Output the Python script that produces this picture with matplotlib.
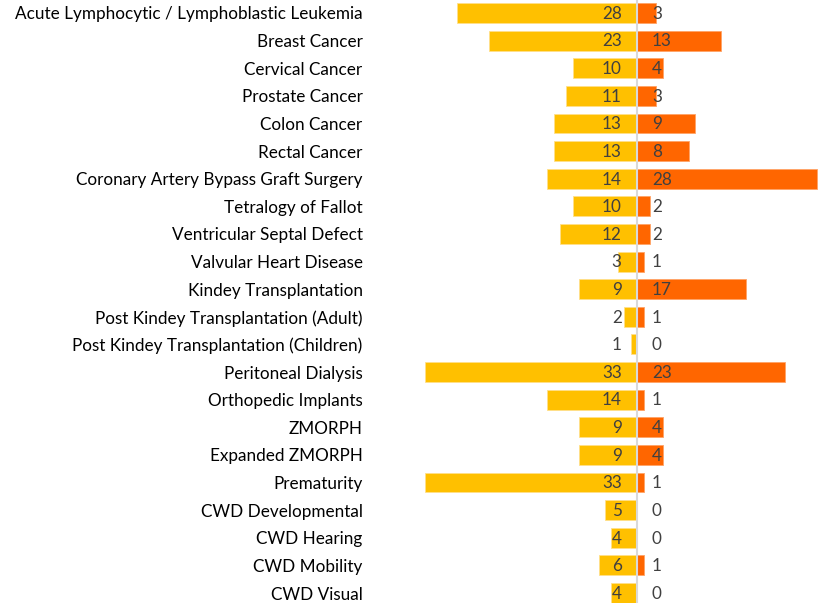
import matplotlib
matplotlib.use("Agg")
import matplotlib.pyplot as plt

plt.rcParams["font.family"] = ["Lato", "DejaVu Sans"]

categories = [
    "Acute Lymphocytic / Lymphoblastic Leukemia",
    "Breast Cancer",
    "Cervical Cancer",
    "Prostate Cancer",
    "Colon Cancer",
    "Rectal Cancer",
    "Coronary Artery Bypass Graft Surgery",
    "Tetralogy of Fallot",
    "Ventricular Septal Defect",
    "Valvular Heart Disease",
    "Kindey Transplantation",
    "Post Kindey Transplantation (Adult)",
    "Post Kindey Transplantation (Children)",
    "Peritoneal Dialysis",
    "Orthopedic Implants",
    "ZMORPH",
    "Expanded ZMORPH",
    "Prematurity",
    "CWD Developmental",
    "CWD Hearing",
    "CWD Mobility",
    "CWD Visual",
]
left_values = [28, 23, 10, 11, 13, 13, 14, 10, 12, 3, 9, 2, 1, 33, 14, 9, 9, 33, 5, 4, 6, 4]
right_values = [3, 13, 4, 3, 9, 8, 28, 2, 2, 1, 17, 1, 0, 23, 1, 4, 4, 1, 0, 0, 1, 0]

yellow = "#FFC000"
orange = "#FF6600"
text_color = "#404040"
fs = 12.3

fig = plt.figure(figsize=(8.19, 6.03), dpi=100)
ax = fig.add_axes([425 / 819, 0, 394 / 819, 1])

n = len(categories)
ys = list(range(n))
ax.barh(ys, [-v for v in left_values], height=0.72, color=yellow,
        edgecolor="#FFE08A", linewidth=0.6)
ax.barh(ys, right_values, height=0.72, color=orange,
        edgecolor="#FFA366", linewidth=0.6)
ax.axvline(0, color="#D9D9D9", linewidth=1.5, zorder=3)

for y, lv, rv in zip(ys, left_values, right_values):
    ax.text(-2.4, y + 0.03, str(lv), ha="right", va="center", fontsize=fs,
            color=text_color, zorder=4)
    ax.text(2.3, y + 0.03, str(rv), ha="left", va="center", fontsize=fs,
            color=text_color, zorder=4)

ax.set_xlim(-33, 28.3)
ax.set_ylim(n - 1 + 10 / 27.62, -13 / 27.62)
ax.set_yticks(ys)
ax.set_yticklabels(categories, fontsize=fs, color="black")
ax.tick_params(axis="y", length=0, pad=45)
ax.set_xticks([])
for s in ax.spines.values():
    s.set_visible(False)

fig.savefig("out.png", dpi=100)
